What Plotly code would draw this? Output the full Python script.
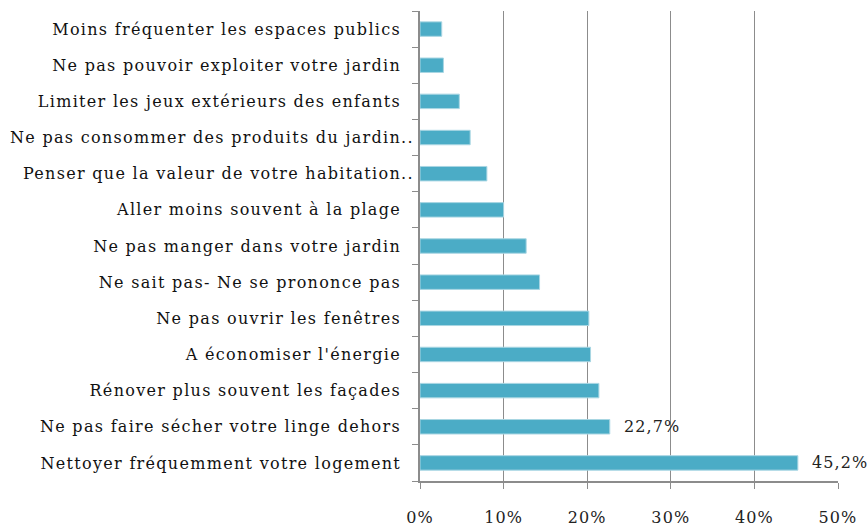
import plotly.graph_objects as go

categories = [
    "Moins fréquenter les espaces publics",
    "Ne pas pouvoir exploiter votre jardin",
    "Limiter les jeux extérieurs des enfants",
    "Ne pas consommer des produits du jardin..",
    "Penser que la valeur de votre habitation..",
    "Aller moins souvent à la plage",
    "Ne pas manger dans votre jardin",
    "Ne sait pas- Ne se prononce pas",
    "Ne pas ouvrir les fenêtres",
    "A économiser l'énergie",
    "Rénover plus souvent les façades",
    "Ne pas faire sécher votre linge dehors",
    "Nettoyer fréquemment votre logement",
]
values = [2.6, 2.8, 4.7, 6.0, 8.0, 10.0, 12.7, 14.3, 20.2, 20.4, 21.4, 22.7, 45.2]
labels = ["", "", "", "", "", "", "", "", "", "", "", "22,7%", "45,2%"]
x_ticks = [0, 10, 20, 30, 40, 50]
x_tick_labels = ["0%", "10%", "20%", "30%", "40%", "50%"]

FONT = "DejaVu Serif"
SP = "<span style='letter-spacing:1.1px'>{}</span>"
SPY = "<span style='letter-spacing:1.3px'>{}</span>"


def ylab(c):
    # Excel leaves a trailing gap after untruncated category labels
    return SPY.format(c if c.endswith("..") else c + "\u00a0\u00a0")


fig = go.Figure(go.Bar(
    y=categories, x=values, orientation="h",
    marker=dict(color="#4BACC6", line=dict(color="#A9D6E3", width=1)),
    hoverinfo="x+y",
))

for cat, val, lab in zip(categories, values, labels):
    if lab:
        fig.add_annotation(
            x=val, y=cat, text=SP.format(lab), showarrow=False,
            xanchor="left", yanchor="middle", xshift=12,
            font=dict(family=FONT, size=16, color="#222222"),
        )

fig.update_layout(
    width=868, height=526,
    margin=dict(l=420, r=30, t=11, b=45),
    paper_bgcolor="white", plot_bgcolor="white",
    bargap=0.6, showlegend=False,
    font=dict(family=FONT, size=16, color="#111111"),
)
fig.update_xaxes(
    range=[0, 50], tickvals=x_ticks,
    ticktext=[SP.format(t) for t in x_tick_labels],
    showgrid=True, gridcolor="#8C8C8C", gridwidth=1,
    showline=True, linecolor="#8C8C8C", linewidth=2,
    ticks="outside", ticklen=6, tickcolor="#8C8C8C", tickwidth=1,
    ticklabelstandoff=15, zeroline=False, automargin=False,
    tickfont=dict(family=FONT, size=16, color="#222222"),
)
fig.update_yaxes(
    autorange="reversed", type="category",
    tickvals=categories, ticktext=[ylab(c) for c in categories],
    showline=True, linecolor="#8C8C8C", linewidth=2,
    ticks="outside", ticklen=6, tickcolor="#8C8C8C", tickwidth=1,
    tickson="boundaries", ticklabelstandoff=1, automargin=False,
    tickfont=dict(family=FONT, size=16, color="#111111"),
)

fig.write_html(
    "out.html",
    config={"displayModeBar": False},
    post_script="document.body.style.margin='0';document.body.style.overflow='hidden';",
)
